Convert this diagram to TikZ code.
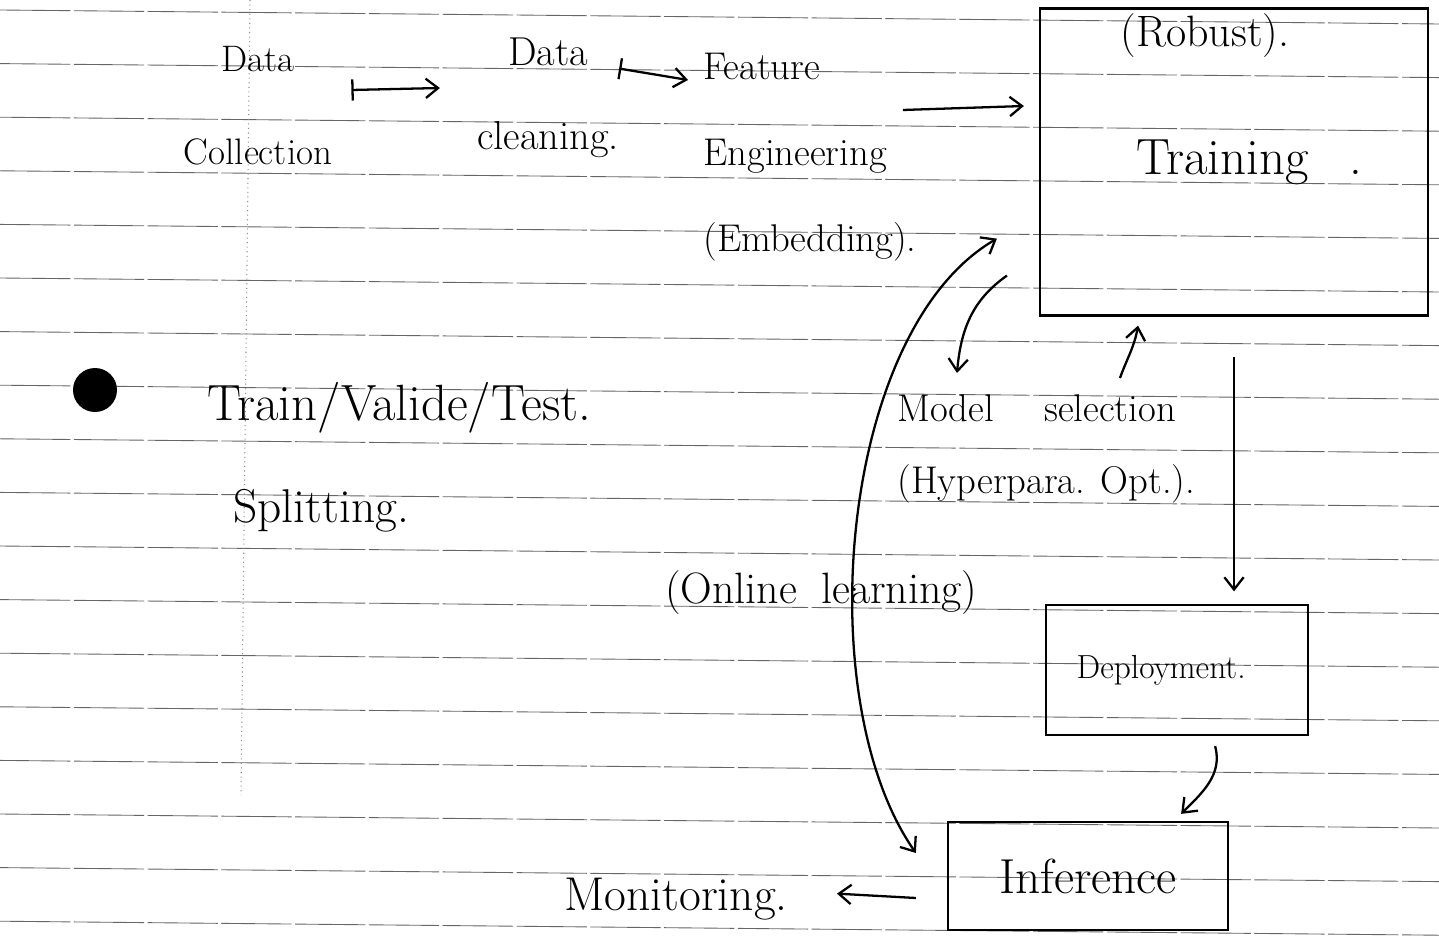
\documentclass[tikz,border=0pt]{standalone}
\usepackage{fontspec}
\usetikzlibrary{arrows.meta}

\begin{document}
\begin{tikzpicture}[x=0.02cm, y=-0.02cm,
    >={Straight Barb[length=7pt,width=11pt]},
    hand/.style 2 args={font=\fontsize{#1}{#2}\selectfont, inner sep=0pt},
    box/.style={draw, line width=1.3pt},
    arr/.style={->, line width=1.3pt},
    dbl/.style={<->, line width=1.3pt},
    maps/.style={{Bar[width=12pt]}->, line width=1.3pt},
    rule/.style={black!60, line width=0.5pt, dash pattern=on 40pt off 2pt},
    guide/.style={black!45, line width=0.6pt, dotted}]

    % notebook page
    \fill[white] (0,0) rectangle (1439,949);
    \useasboundingbox (0,0) rectangle (1439,949);
    \foreach \k in {0,...,17}
        \draw[rule] (0,{10+53.6*\k}) -- (1439,{24+53.6*\k});
    \draw[guide] (250,0) -- (241,795);

    % pipeline, top row
    \node[hand={21}{53}, align=center] (collect) at (258,106) {Data\\Collection};
    \node[hand={23}{48}, align=center] (clean) at (548,98) {Data\\cleaning.};
    \node[hand={22}{49}, align=left, anchor=north west] (feat) at (703,53)
        {Feature\\Engineering\\(Embedding).};
    \node[box, minimum width=7.76cm, minimum height=6.14cm, hand={29}{35}] (train)
        at (1234,162) {\hspace*{0.6em}Training\hspace{0.8em}.};
    \node[hand={25}{30}, anchor=base] (robust) at (1205,47) {(Robust).};

    % splitting note
    \node[circle, fill, minimum size=0.88cm, inner sep=0pt] (dot) at (95,390) {};
    \node[hand={29}{35}, anchor=base west] (tvt) at (207,420) {Train/Valide/Test.};
    \node[hand={27}{32}, anchor=base west] (split) at (233,522) {Splitting.};

    % model selection, deployment, inference
    \node[hand={22}{41}, align=left, anchor=north west] (model) at (897,394)
        {Model\hspace{1.3em}selection\\(Hyperpara. Opt.).};
    \node[hand={25}{30}, anchor=base west] (online) at (665,603)
        {(Online\hspace{0.55em}learning)};
    \node[box, minimum width=5.24cm, minimum height=2.6cm, hand={19}{23}] (deploy)
        at (1177,670) {Deployment.\hspace*{0.95em}};
    \node[box, minimum width=5.6cm, minimum height=2.16cm, hand={28}{34}] (infer)
        at (1088,876) {Inference};
    \node[hand={27}{32}, anchor=base] (monitor) at (676,910) {Monitoring.};

    % connectors
    \draw[maps] ([xshift=0.38cm,yshift=0.32cm]collect.east)
        -- ([xshift=-0.74cm,yshift=0.2cm]clean.west);
    \draw[maps] ([yshift=-0.62cm]clean.north east)
        -- ([xshift=-0.3cm,yshift=-0.54cm]feat.north west);
    \draw[arr] ([xshift=-0.28cm,yshift=-1.14cm]feat.north east)
        -- ([xshift=-0.3cm,yshift=1.12cm]train.west);
    \draw[arr] ([xshift=-0.64cm,yshift=0.82cm]train.south west)
        to[out=215,in=85] ([xshift=1.2cm,yshift=0.42cm]model.north west);
    \draw[arr] ([xshift=4.46cm,yshift=0.32cm]model.north west)
        to[out=70,in=-100] ([xshift=-1.92cm,yshift=-0.18cm]train.south);
    \draw[arr, shorten >=0.25cm] ([yshift=-0.8cm]train.south)
        -- (train.south |- deploy.north);
    \draw[arr] ([xshift=-1.88cm,yshift=-0.2cm]deploy.south east)
        to[out=-75,in=45] ([xshift=-0.96cm,yshift=0.14cm]infer.north east);
    \draw[dbl] ([xshift=-0.84cm,yshift=1.56cm]train.south west)
        .. controls +(-158,92) and +(-107,-153) .. ([xshift=-0.62cm,yshift=0.46cm]infer.west);
    \draw[arr] ([xshift=-0.62cm,yshift=-0.44cm]infer.west)
        -- ([xshift=0.98cm,yshift=0.1cm]monitor.east);
\end{tikzpicture}
\end{document}
